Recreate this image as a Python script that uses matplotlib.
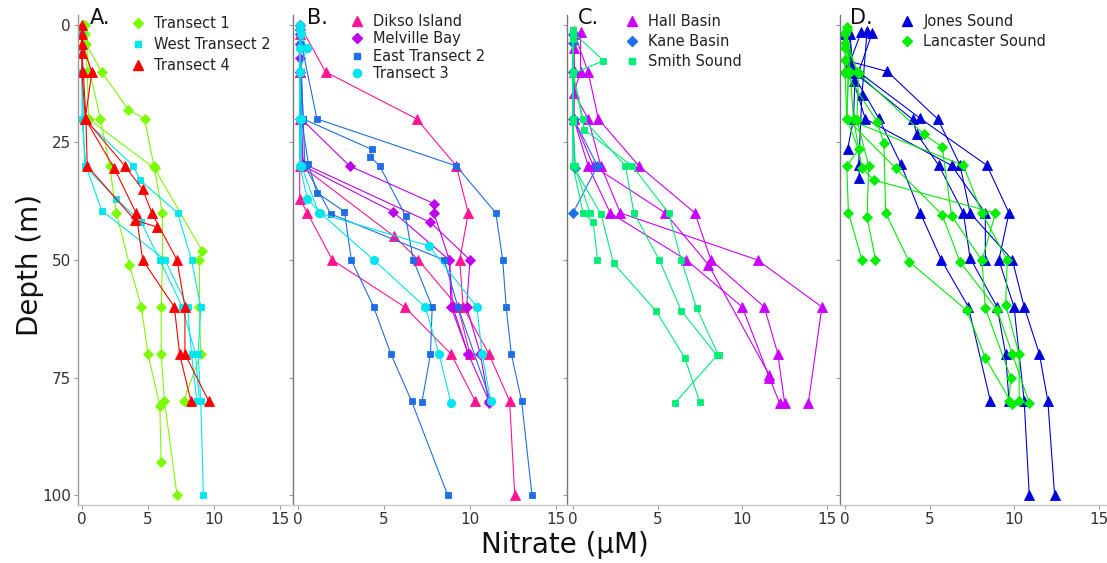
import matplotlib
matplotlib.use("Agg")
import matplotlib.pyplot as plt
from matplotlib.lines import Line2D

# ---------------- data (depth in m, nitrate in uM) ----------------
# Panel A
transect1_depth = [[0, 4, 10, 18, 20, 30, 40, 50, 60, 70, 80, 100],
                   [2, 10, 20, 30, 40, 51, 60, 70, 81, 93],
                   [0, 10, 20, 30.5, 48, 50, 60, 70, 80]]
transect1_no3 = [[0.2, 0.3, 1.5, 3.5, 4.75, 5.45, 6.1, 6.1, 6.0, 6.0, 6.25, 7.2],
                 [0.2, 0.6, 1.4, 2.1, 2.6, 3.6, 4.5, 5.0, 5.9, 6.0],
                 [0.1, 0.4, 0.5, 5.5, 9.1, 8.9, 8.9, 9.0, 7.7]]
wtransect2_depth = [[2, 10, 20, 30, 33, 40, 50, 60, 70, 80, 100],
                    [2, 10, 20, 30, 37, 42, 50, 60, 70, 80],
                    [5, 10, 20, 30, 39.5, 50, 60, 70, 80]]
wtransect2_no3 = [[0.0, 0.0, 0.1, 3.9, 4.4, 7.25, 8.3, 9.0, 8.8, 9.0, 9.2],
                  [0.0, 0.0, 0.1, 0.2, 2.6, 4.5, 5.9, 7.6, 8.6, 8.9],
                  [0.0, 0.0, 0.0, 0.3, 1.5, 6.3, 8.0, 8.3, 8.7]]
transect4_depth = [[2, 10, 20, 30, 35, 40, 50, 60, 70, 80],
                   [4, 10, 20, 30.5, 40, 50, 60, 70, 80],
                   [0, 6, 10, 20, 30, 41.5, 43]]
transect4_no3 = [[0.0, 0.0, 0.25, 3.25, 4.6, 5.3, 7.2, 7.8, 7.8, 9.6],
                 [0.0, 0.75, 0.25, 2.45, 4.1, 4.6, 7.0, 7.4, 8.25],
                 [0.0, 0.0, 0.1, 0.3, 0.4, 4.0, 5.7]]

# Panel B
dikso_depth = [[0, 10, 20, 30, 40, 50, 60, 70, 80, 100],
               [2, 10, 20, 30, 37, 40, 50, 60, 70, 80],
               [0, 10, 20, 30, 45, 50, 60, 70]]
dikso_no3 = [[0.1, 1.6, 6.9, 9.2, 9.9, 9.4, 9.6, 11.1, 12.3, 12.6],
             [0.1, 0.1, 0.1, 0.1, 0.1, 0.55, 2.0, 6.2, 8.9, 10.3],
             [0.1, 0.1, 0.15, 0.2, 5.6, 7.0, 9.3, 10.0]]
melville_depth = [[0, 7, 20, 30, 38, 40, 50, 60, 70, 80],
                  [2, 10, 20, 29.5, 42, 50, 60, 70, 80.5],
                  [4, 10, 20, 30, 39.7, 50, 60, 70]]
melville_no3 = [[0.1, 0.1, 0.2, 3.0, 7.9, 7.9, 8.8, 8.9, 9.9, 11.1],
                [0.1, 0.1, 0.1, 0.3, 7.7, 10.0, 9.8, 10.6, 11.1],
                [0.1, 0.1, 0.2, 0.3, 5.5, 8.8, 9.0, 9.9]]
etransect2_depth = [[0, 4, 20, 30, 40, 50, 60, 70, 80, 100],
                    [2, 10, 20, 26.5, 28, 30, 40.6, 50, 60, 70, 80.3],
                    [5, 10, 20, 29.5, 35.7, 39.7, 50, 60, 70, 80, 100],
                    [4, 20, 30, 40.2, 50, 60, 80]]
etransect2_no3 = [[0.1, 0.2, 1.1, 9.2, 11.5, 11.9, 12.1, 12.4, 13.0, 13.6],
                  [0.1, 0.2, 0.3, 4.3, 4.2, 4.75, 6.25, 6.7, 7.8, 7.7, 7.2],
                  [0.1, 0.2, 0.2, 0.6, 1.1, 2.7, 3.1, 4.4, 5.4, 6.6, 8.7],
                  [0.1, 0.3, 0.4, 1.9, 8.5, 9.3, 11.2]]
transect3_depth = [[0, 5, 10, 20, 30, 37, 40, 50, 60, 70, 80.5],
                   [2, 10, 20, 30, 40, 47, 60, 70, 80],
                   [1, 5, 10, 20, 30]]
transect3_no3 = [[0.1, 0.1, 0.1, 0.1, 0.1, 0.55, 1.3, 4.4, 7.4, 8.2, 8.9],
                 [0.2, 0.1, 0.2, 0.2, 1.2, 7.6, 10.4, 10.7, 11.2],
                 [0.1, 0.5, 0.1, 0.1, 0.2]]

# Panel C
hall_depth = [[1.4, 10, 20, 30, 40, 50, 60, 75, 80.4],
              [1.6, 10, 14.4, 20, 30, 40, 50, 60, 80.4],
              [2, 10, 20, 30, 40, 50, 60, 70, 80.4],
              [5, 10, 20, 30, 40, 51, 74.5]]
hall_no3 = [[0.05, 0.05, 0.05, 0.9, 2.2, 6.7, 10.0, 11.6, 12.2],
            [0.45, 0.45, 0.05, 0.9, 1.65, 2.8, 10.9, 14.7, 13.9],
            [0.1, 0.9, 1.5, 3.9, 7.2, 8.15, 11.3, 12.1, 12.5],
            [0.05, 0.1, 0.05, 1.2, 5.45, 8.0, 11.6]]
kane_depth = [[3.8, 10, 20, 30.5],
              [2, 10, 20, 30, 40]]
kane_no3 = [[0.0, 0.0, 0.0, 0.14],
            [0.0, 0.0, 0.05, 1.45, 0.0]]
smith_depth = [[1.6, 7.6, 10.4, 20, 30, 40, 50, 60.8, 70.3, 80.5],
               [1, 10, 22.3, 30, 40, 50, 60.2, 70.3],
               [2, 10, 20.6, 30, 40.2, 50.7, 60.8, 70.8, 80.3],
               [1, 10, 20, 30, 40, 42, 50],
               [3, 10, 20, 30, 40]]
smith_no3 = [[0.0, 1.8, 0.0, 0.6, 3.1, 3.6, 5.1, 6.4, 8.5, 6.0],
             [0.0, 0.0, 0.67, 3.5, 5.65, 6.4, 7.3, 8.6],
             [0.0, 0.0, 0.0, 0.0, 1.65, 2.4, 4.9, 6.6, 7.5],
             [0.0, 0.0, 0.0, 0.0, 0.6, 1.2, 1.45],
             [0.0, 0.0, 0.0, 0.1, 1.0]]

# Panel D
jones_depth = [[1.8, 10.3, 20, 26.4],
               [1.4, 14.9, 29.8, 32.5],
               [1.6, 7.8, 9.9, 20.1, 29.8, 40, 50, 60, 70, 80, 100],
               [1.8, 10, 19.9, 29.9, 40, 50, 60, 80, 100],
               [2, 10, 19.9, 29.6, 40, 50, 60, 80],
               [1, 10, 20.1, 23.2, 29.9, 40, 49.6, 60, 70, 80],
               [2, 12, 20, 29.9, 40, 50]]
jones_no3 = [[0.0, 0.6, 0.5, 0.15],
             [1.3, 1.0, 0.8, 0.85],
             [0.95, 0.3, 2.5, 5.5, 6.8, 7.4, 9.9, 10.6, 11.5, 12.0, 12.4],
             [1.6, 0.8, 4.45, 8.4, 9.7, 9.1, 10.0, 10.6, 10.9],
             [0.0, 0.4, 2.0, 3.3, 4.45, 5.7, 7.3, 8.6],
             [0.2, 0.5, 4.0, 4.25, 5.55, 7.0, 7.4, 9.0, 9.5, 9.7],
             [0.3, 0.5, 1.2, 6.3, 8.3, 8.3]]
lancaster_depth = [[1.8, 10.3, 20, 26.5, 30, 40, 50],
                   [3.9, 10.3, 20.2, 30, 40.8, 50],
                   [7.4, 10, 20.6, 25.2, 40, 50.4, 60.7, 70.8, 80.7],
                   [1, 10, 20, 30.5, 40.4, 50.4, 60.6, 70, 80.4],
                   [2, 10, 23.2, 26, 40.6, 50.1, 60.2, 75, 80],
                   [5, 10, 20, 29.9, 40, 50, 59.5, 70, 80],
                   [0.5, 10, 20, 30.5, 33, 40, 50.1]]
lancaster_no3 = [[0.0, 0.0, 0.1, 0.8, 0.1, 0.2, 1.0],
                 [0.0, 0.8, 0.7, 1.4, 1.3, 1.8],
                 [0.0, 0.0, 1.9, 2.3, 2.4, 3.8, 7.2, 8.3, 9.9],
                 [0.1, 0.2, 0.1, 3.0, 5.75, 6.8, 9.0, 9.9, 10.9],
                 [0.0, 0.7, 4.65, 5.75, 6.3, 8.1, 8.3, 9.8, 9.7],
                 [0.0, 0.2, 0.1, 7.0, 8.1, 9.6, 9.5, 10.3, 10.3],
                 [0.1, 0.3, 0.5, 1.0, 1.7, 8.9, 8.1]]

panel_letters = ["A.", "B.", "C.", "D."]
x_ticks = [0, 5, 10, 15]
y_ticks = [0, 25, 50, 75, 100]

# (label, depth, no3, color, marker, markersize)
panels = [
    [("Transect 1", transect1_depth, transect1_no3, "#7CFC00", "D", 5.5),
     ("West Transect 2", wtransect2_depth, wtransect2_no3, "#00E5EE", "s", 5),
     ("Transect 4", transect4_depth, transect4_no3, "#FF0000", "^", 7.5)],
    [("Dikso Island", dikso_depth, dikso_no3, "#FF1493", "^", 7.5),
     ("Melville Bay", melville_depth, melville_no3, "#C000F0", "D", 5.5),
     ("East Transect 2", etransect2_depth, etransect2_no3, "#1E6FE6", "s", 5),
     ("Transect 3", transect3_depth, transect3_no3, "#00E5EE", "o", 6)],
    [("Hall Basin", hall_depth, hall_no3, "#CC00FF", "^", 7.5),
     ("Kane Basin", kane_depth, kane_no3, "#1E6FE6", "D", 5.5),
     ("Smith Sound", smith_depth, smith_no3, "#00EE76", "s", 5)],
    [("Jones Sound", jones_depth, jones_no3, "#0000DD", "^", 7.5),
     ("Lancaster Sound", lancaster_depth, lancaster_no3, "#00EE00", "D", 5.5)],
]

W, H = 1107, 563
fig = plt.figure(figsize=(W / 100, H / 100), dpi=100)

# axes rectangles in pixels: left, right
ax_px = [(78, 290), (293, 565), (567, 838), (840, 1107)]
xlims = [(-0.30, 15.76), (-0.29, 15.52), (-0.35, 15.65), (-0.30, 15.5)]
top_px, bot_px = 15, 505
letter_px = [(90, 18), (307, 18), (578, 18), (850, 18)]
legend_px = [(138, 25, 0.40), (357, 23, 0.16), (632, 23, 0.36), (907, 23, 0.36)]

for i, series in enumerate(panels):
    l, r = ax_px[i]
    ax = fig.add_axes([l / W, 1 - bot_px / H, (r - l) / W, (bot_px - top_px) / H])
    for label, depths, vals, color, marker, ms in series:
        for d, v in zip(depths, vals):
            ax.plot(v, d, color=color, marker=marker, markersize=ms, lw=0.8,
                    markeredgewidth=0.6)
    ax.set_xlim(*xlims[i])
    ax.set_ylim(102.1, -2.1)
    ax.set_xticks(x_ticks)
    ax.set_yticks(y_ticks)
    for s in ("top", "right"):
        ax.spines[s].set_visible(False)
    ax.spines["left"].set_color("#999999" if i == 0 else "#777777")
    ax.spines["bottom"].set_color("#c8c8c8")
    ax.spines["left"].set_linewidth(1.0)
    ax.spines["bottom"].set_linewidth(1.0)
    ax.tick_params(axis="both", length=3, width=0.8, color="#999999",
                   labelsize=11, labelcolor="#333333", pad=2)
    if i > 0:
        ax.set_yticklabels([])
    # letter
    lx, ly = letter_px[i]
    fig.text(lx / W, 1 - ly / H, panel_letters[i], fontsize=15, va="center",
             ha="left", color="#111111")
    # legend
    handles = [Line2D([], [], ls="none", marker=m, markersize=ms, color=c)
               for (_, _, _, c, m, ms) in series]
    labels = [s[0] for s in series]
    mx, my, sp = legend_px[i]
    leg = ax.legend(handles, labels, loc="upper left", frameon=False,
                    bbox_to_anchor=((mx - 7) / W, 1 - (my - 9) / H),
                    bbox_transform=fig.transFigure, borderpad=0,
                    handlelength=1.0, handletextpad=0.6, labelspacing=sp,
                    fontsize=10.5, borderaxespad=0)
    for t in leg.get_texts():
        t.set_color("#222222")

fig.text(30 / W, 1 - 265 / H, "Depth (m)", rotation=90, fontsize=20,
         ha="center", va="center", color="#111111")
fig.text(565 / W, 1 - 545 / H, "Nitrate (µM)", fontsize=20,
         ha="center", va="center", color="#111111")

fig.savefig("out.png", dpi=100)
